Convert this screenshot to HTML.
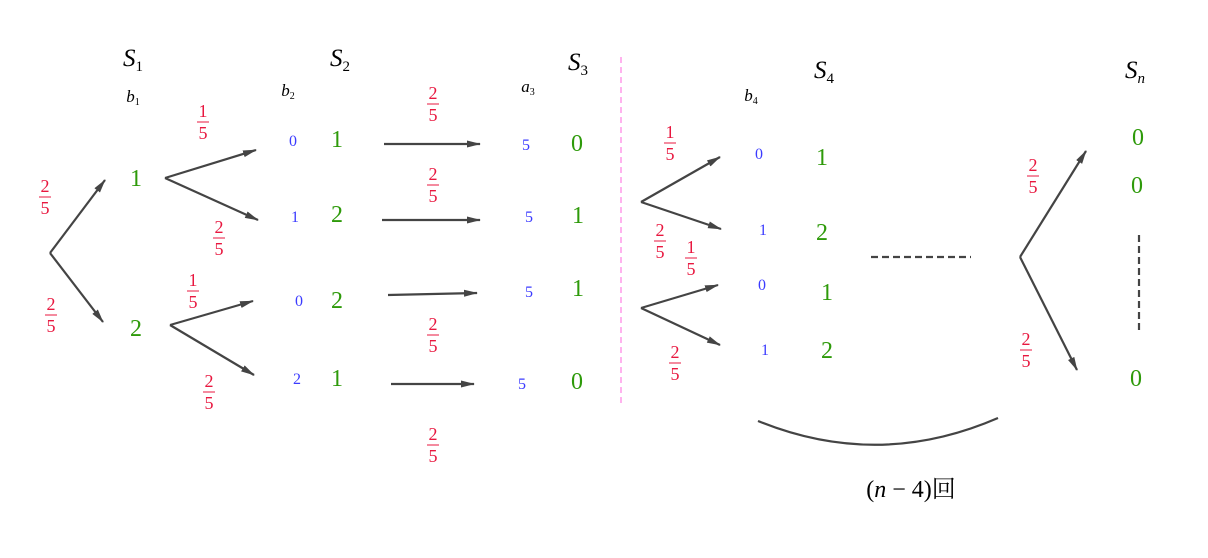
<!DOCTYPE html>
<html><head><meta charset="utf-8"><style>
html,body{margin:0;padding:0;background:#fff;width:1208px;height:558px;overflow:hidden}
svg{display:block}
text{font-family:"Liberation Serif","Noto Serif CJK SC",serif}
.g{fill:#2e9a0a;font-size:24px}
.b{fill:#3b3bff;font-size:16px}
.k{fill:#000;font-style:italic}
.r{fill:#e8173f;font-size:18px}
</style></head><body>
<svg width="1208" height="558" viewBox="0 0 1208 558" xmlns="http://www.w3.org/2000/svg">
<defs><marker id="a" markerWidth="14" markerHeight="8" refX="13" refY="4" orient="auto" markerUnits="userSpaceOnUse"><path d="M0,0.5 L14,4 L0,7.5 Z" fill="#444"/></marker></defs>
<g stroke="#444" stroke-width="2.2" fill="none" marker-end="url(#a)">
<line x1="50" y1="253" x2="105" y2="180"/><line x1="50" y1="253" x2="103" y2="322"/>
<line x1="165" y1="178" x2="256" y2="150"/><line x1="165" y1="178" x2="258" y2="220"/>
<line x1="170" y1="325" x2="253" y2="301"/><line x1="170" y1="325" x2="254" y2="375"/>
<line x1="384" y1="144" x2="480" y2="144"/><line x1="382" y1="220" x2="480" y2="220"/>
<line x1="388" y1="295" x2="477" y2="293"/><line x1="391" y1="384" x2="474" y2="384"/>
<line x1="641" y1="202" x2="720" y2="157"/><line x1="641" y1="202" x2="721" y2="229"/>
<line x1="641" y1="308" x2="718" y2="285"/><line x1="641" y1="308" x2="720" y2="345"/>
<line x1="1020" y1="257" x2="1086" y2="151"/><line x1="1020" y1="257" x2="1077" y2="370"/>
</g>
<line x1="621" y1="57" x2="621" y2="407" stroke="#ffb3ee" stroke-width="2" stroke-dasharray="6,4"/>
<line x1="871" y1="257" x2="971" y2="257" stroke="#444" stroke-width="2.2" stroke-dasharray="7,4"/>
<line x1="1139" y1="235" x2="1139" y2="333" stroke="#444" stroke-width="2.2" stroke-dasharray="7,4"/>
<path d="M758,421 Q878,470 998,418" stroke="#444" stroke-width="2.2" fill="none"/>
<g class="k" font-size="25" text-anchor="middle">
<text x="133" y="66">S<tspan font-size="15" font-style="normal" dy="5">1</tspan></text>
<text x="340" y="66">S<tspan font-size="15" font-style="normal" dy="5">2</tspan></text>
<text x="578" y="70">S<tspan font-size="15" font-style="normal" dy="5">3</tspan></text>
<text x="824" y="78">S<tspan font-size="15" font-style="normal" dy="5">4</tspan></text>
<text x="1135" y="78">S<tspan font-size="15" dy="5">n</tspan></text>
</g>
<g class="k" font-size="17" text-anchor="middle">
<text x="133" y="102">b<tspan font-size="10" font-style="normal" dy="3">1</tspan></text>
<text x="288" y="96">b<tspan font-size="10" font-style="normal" dy="3">2</tspan></text>
<text x="528" y="92">a<tspan font-size="10" font-style="normal" dy="3">3</tspan></text>
<text x="751" y="101">b<tspan font-size="10" font-style="normal" dy="3">4</tspan></text>
</g>
<g class="g" text-anchor="middle">
<text x="136" y="186">1</text><text x="136" y="336">2</text>
<text x="337" y="147">1</text><text x="337" y="222">2</text><text x="337" y="308">2</text><text x="337" y="386">1</text>
<text x="577" y="151">0</text><text x="578" y="223">1</text><text x="578" y="296">1</text><text x="577" y="389">0</text>
<text x="822" y="165">1</text><text x="822" y="240">2</text><text x="827" y="300">1</text><text x="827" y="358">2</text>
<text x="1138" y="145">0</text><text x="1137" y="193">0</text><text x="1136" y="386">0</text>
</g>
<g class="b" text-anchor="middle">
<text x="293" y="146">0</text><text x="295" y="222">1</text><text x="299" y="306">0</text><text x="297" y="384">2</text>
<text x="526" y="150">5</text><text x="529" y="222">5</text><text x="529" y="297">5</text><text x="522" y="389">5</text>
<text x="759" y="159">0</text><text x="763" y="235">1</text><text x="762" y="290">0</text><text x="765" y="355">1</text>
</g>
<g class="r" text-anchor="middle">
<g transform="translate(45,197)"><text y="-5">2</text><line x1="-6" x2="6" stroke="#e8173f"/><text y="17">5</text></g>
<g transform="translate(51,315)"><text y="-5">2</text><line x1="-6" x2="6" stroke="#e8173f"/><text y="17">5</text></g>
<g transform="translate(203,122)"><text y="-5">1</text><line x1="-6" x2="6" stroke="#e8173f"/><text y="17">5</text></g>
<g transform="translate(219,238)"><text y="-5">2</text><line x1="-6" x2="6" stroke="#e8173f"/><text y="17">5</text></g>
<g transform="translate(193,291)"><text y="-5">1</text><line x1="-6" x2="6" stroke="#e8173f"/><text y="17">5</text></g>
<g transform="translate(209,392)"><text y="-5">2</text><line x1="-6" x2="6" stroke="#e8173f"/><text y="17">5</text></g>
<g transform="translate(433,104)"><text y="-5">2</text><line x1="-6" x2="6" stroke="#e8173f"/><text y="17">5</text></g>
<g transform="translate(433,185)"><text y="-5">2</text><line x1="-6" x2="6" stroke="#e8173f"/><text y="17">5</text></g>
<g transform="translate(433,335)"><text y="-5">2</text><line x1="-6" x2="6" stroke="#e8173f"/><text y="17">5</text></g>
<g transform="translate(433,445)"><text y="-5">2</text><line x1="-6" x2="6" stroke="#e8173f"/><text y="17">5</text></g>
<g transform="translate(670,143)"><text y="-5">1</text><line x1="-6" x2="6" stroke="#e8173f"/><text y="17">5</text></g>
<g transform="translate(660,241)"><text y="-5">2</text><line x1="-6" x2="6" stroke="#e8173f"/><text y="17">5</text></g>
<g transform="translate(691,258)"><text y="-5">1</text><line x1="-6" x2="6" stroke="#e8173f"/><text y="17">5</text></g>
<g transform="translate(675,363)"><text y="-5">2</text><line x1="-6" x2="6" stroke="#e8173f"/><text y="17">5</text></g>
<g transform="translate(1033,176)"><text y="-5">2</text><line x1="-6" x2="6" stroke="#e8173f"/><text y="17">5</text></g>
<g transform="translate(1026,350)"><text y="-5">2</text><line x1="-6" x2="6" stroke="#e8173f"/><text y="17">5</text></g>
</g>
<text x="911" y="497" text-anchor="middle" font-size="24" fill="#000">(<tspan font-style="italic">n</tspan> − 4)回</text>
</svg>
</body></html>
